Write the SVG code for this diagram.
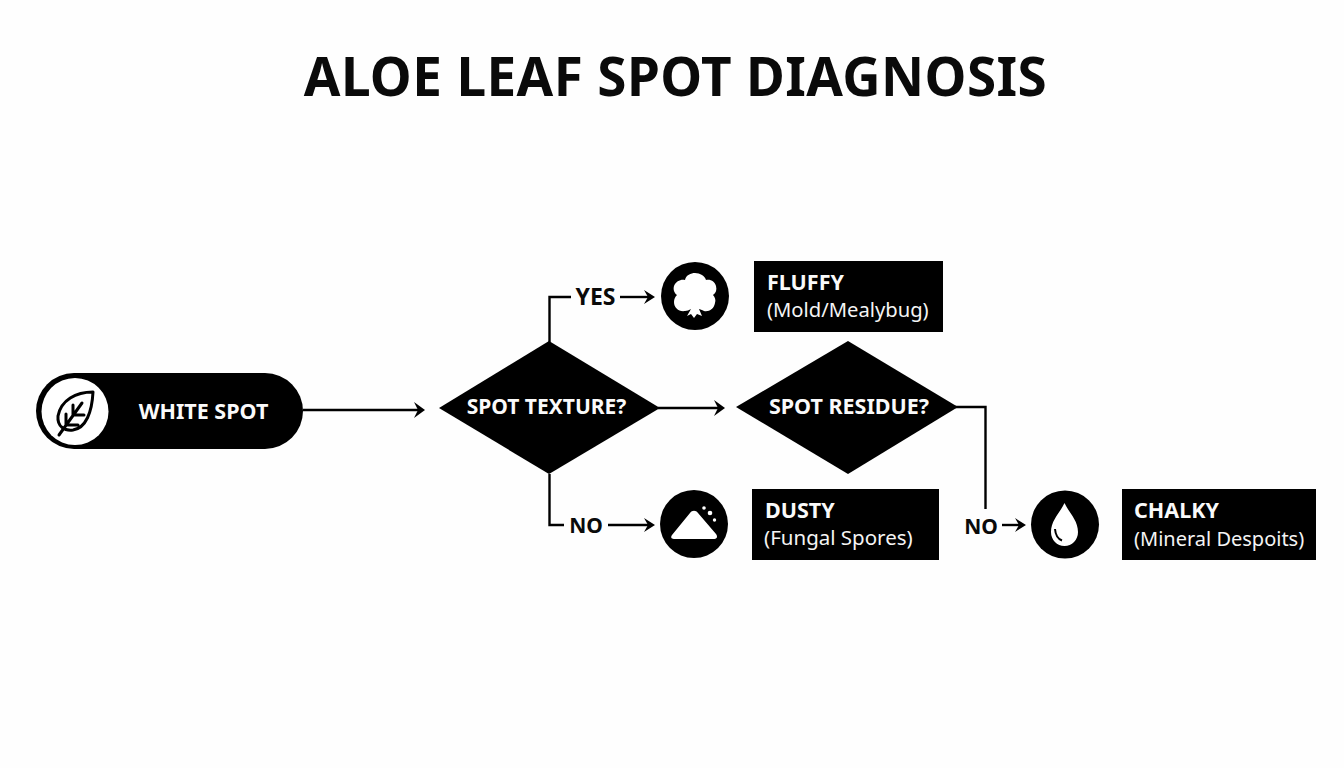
<svg xmlns="http://www.w3.org/2000/svg" width="1344" height="768" viewBox="0 0 1344 768">
<style>
text{font-family:"Noto Sans","Open Sans","DejaVu Sans",sans-serif}
.title{font-size:53px;font-weight:700;fill:#0a0a0a;letter-spacing:.4px}
.w{fill:#fafafa;font-weight:700;font-size:21.500px}
.l{fill:#f4f4f4;font-weight:400}
.k{fill:#0a0a0a;font-weight:700;font-size:21px}
.c{fill:none;stroke:#000;stroke-width:2.400}
.h{fill:#000}
</style>
<rect width="1344" height="768" fill="#fefefe"/>
<text class="title" x="675.500" y="96" text-anchor="middle">ALOE LEAF SPOT DIAGNOSIS</text>
<g id="connectors">
<path class="c" d="M303 410H418"/><path class="h" d="M414 402L425 410L414 418L418 410Z"/>
<path class="c" d="M658 408H720"/><path class="h" d="M714 400L725 408L714 416L718 408Z"/>
<path class="c" d="M549.500 342V297H571"/>
<path class="c" d="M620 297H650"/><path class="h" d="M644 290L655 297L644 304L648 297Z"/>
<path class="c" d="M549.500 474V525H564"/>
<path class="c" d="M608 525H650"/><path class="h" d="M644 518L655 525L644 532L648 525Z"/>
<path class="c" d="M955 407H985.500V509"/>
<path class="c" d="M1002 525H1021"/><path class="h" d="M1015 518L1026 525L1015 532L1019 525Z"/>
</g>
<g id="start"><rect x="36" y="373" width="267" height="76" rx="38" fill="#000"/><circle cx="75" cy="411.500" r="33.500" fill="#fff"/>
<path d="M93 392C76 392 61 400 58 416C57 427 65 431 73 430C86 428 92 412 93 392Z M59 435L82 403 M66 425H78 M66 425V414 M73 415H84 M73 415V405" fill="none" stroke="#000" stroke-width="3" stroke-linecap="round" stroke-linejoin="round"/>
<text class="w" x="203.500" y="419" text-anchor="middle">WHITE SPOT</text></g>
<g id="d1"><polygon points="549,341 660,408 549,474 439,408" fill="#000"/><text class="w" x="546.500" y="414" text-anchor="middle" style="font-size:21px">SPOT TEXTURE?</text></g>
<g id="d2"><polygon points="848,341 958,407 848,474 736,407" fill="#000"/><text class="w" x="849" y="414" text-anchor="middle" style="font-size:21.500px">SPOT RESIDUE?</text></g>
<g id="yes"><text class="k" x="595.500" y="305" text-anchor="middle" style="font-size:23px">YES</text></g>
<g id="no1"><text class="k" x="586" y="533" text-anchor="middle">NO</text></g>
<g id="no2"><text class="k" x="981" y="534" text-anchor="middle">NO</text></g>
<g id="i1"><circle cx="695" cy="296" r="34" fill="#000"/><path d="M685 311C679 312 674 308 674 302C674 299 675 297 677 295C674 293 673 289 674 286C676 281 681 279 685 280C686 275 691 273 695 273C700 273 705 276 706 280C711 279 715 282 716 286C717 290 716 293 713 295C715 297 716 300 715 303C714 309 709 312 704 311C702 310 700 309 699 309L702 316L697 314L694 318L691 314L687 316L691 309C689 310 687 311 685 311Z" fill="#fff"/></g>
<g id="i2"><circle cx="694" cy="524" r="34" fill="#000"/><path d="M672 535L690 513C692 510 696 510 698 513L716 534C718 537 717 539 713 539H675C672 539 670 538 672 535Z" fill="#fff"/><circle cx="704" cy="508" r="1.800" fill="#fff"/><circle cx="710" cy="513" r="2.300" fill="#fff"/><circle cx="714.500" cy="520" r="1.700" fill="#fff"/></g>
<g id="i3"><circle cx="1065" cy="524.500" r="34" fill="#000"/><path d="M1064.500 503C1060 513 1051 520 1051 532C1051 540 1057 546 1064.500 546C1072 546 1078 540 1078 532C1078 520 1069 513 1064.500 503Z" fill="#fff"/><path d="M1055 529C1055.500 535 1058 539 1062 540.500" fill="none" stroke="#000" stroke-width="2"/></g>
<g id="b1"><rect x="754" y="261" width="189" height="71" fill="#000"/><text class="w" x="767" y="290">FLUFFY</text><text class="l" x="767" y="317" style="font-size:20.200px">(Mold/Mealybug)</text></g>
<g id="b2"><rect x="752" y="489" width="187" height="71" fill="#000"/><text class="w" x="765" y="518">DUSTY</text><text class="l" x="764" y="545" style="font-size:20.500px">(Fungal Spores)</text></g>
<g id="b3"><rect x="1122" y="489" width="194" height="71" fill="#000"/><text class="w" x="1134" y="518">CHALKY</text><text class="l" x="1134" y="546" style="font-size:20px">(Mineral Despoits)</text></g>
</svg>
